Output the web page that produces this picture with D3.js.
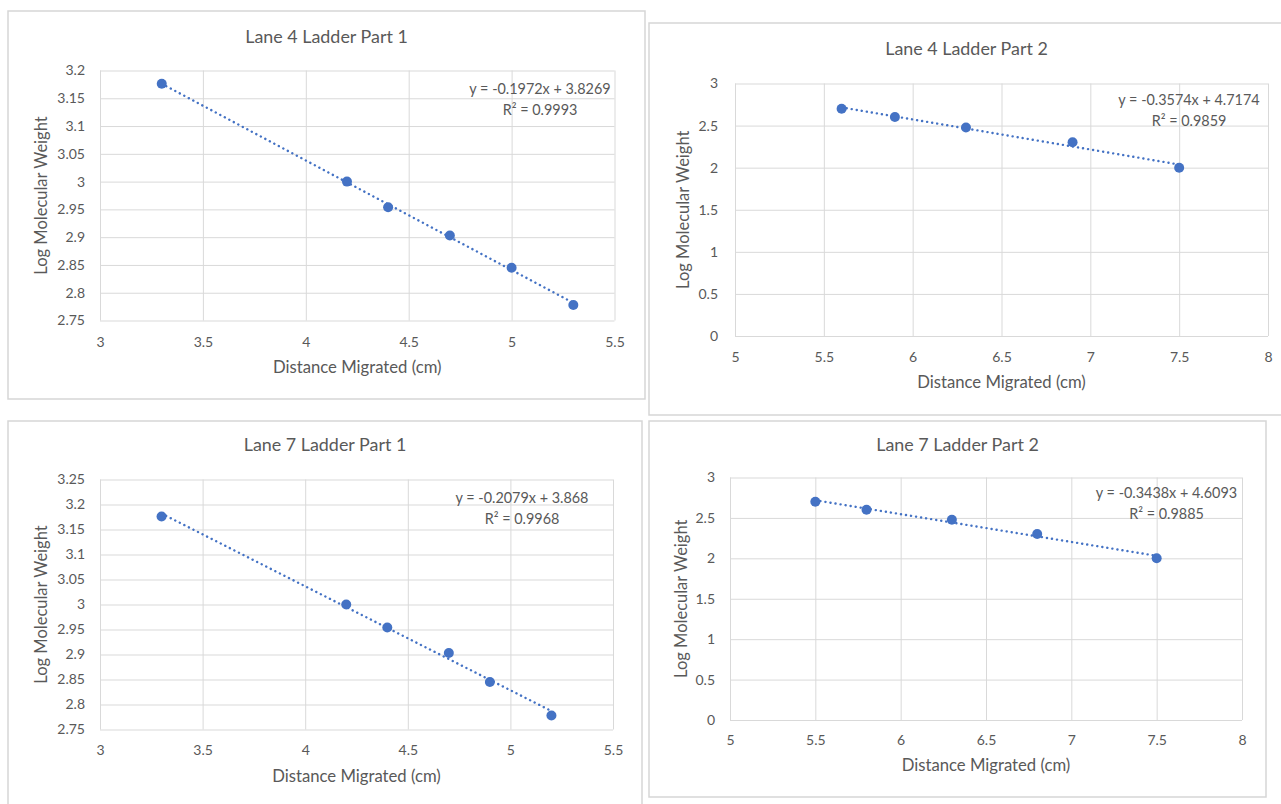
<!DOCTYPE html>
<html>
<head>
<meta charset="utf-8">
<script src="https://cdn.jsdelivr.net/npm/d3@7"></script>
<style>
  html, body { margin: 0; padding: 0; background: #fff; }
  svg { display: block; font-family: Lato, "Open Sans", sans-serif; }
</style>
</head>
<body>
<div id="vis"></div>
<script>
// ladder bands: distance migrated (cm) and log10 of band size
const lane4Part1Distance = [3.3, 4.2, 4.4, 4.7, 5.0, 5.3];
const lane4Part1LogMW = [3.176, 3.0, 2.954, 2.903, 2.845, 2.778];

const lane4Part2Distance = [5.6, 5.9, 6.3, 6.9, 7.5];
const lane4Part2LogMW = [2.699, 2.602, 2.477, 2.301, 2.0];

const lane7Part1Distance = [3.3, 4.2, 4.4, 4.7, 4.9, 5.2];
const lane7Part1LogMW = [3.176, 3.0, 2.954, 2.903, 2.845, 2.778];

const lane7Part2Distance = [5.5, 5.8, 6.3, 6.8, 7.5];
const lane7Part2LogMW = [2.699, 2.602, 2.477, 2.301, 2.0];

// linear trendline fits as printed on each chart: [slope, intercept, R²]
const lane4Part1Fit = [-0.1972, 3.8269, 0.9993];
const lane4Part2Fit = [-0.3574, 4.7174, 0.9859];
const lane7Part1Fit = [-0.2079, 3.868, 0.9968];
const lane7Part2Fit = [-0.3438, 4.6093, 0.9885];

// axis ticks
const part1XTicks = [3, 3.5, 4, 4.5, 5, 5.5];
const part2XTicks = [5, 5.5, 6, 6.5, 7, 7.5, 8];
const lane4Part1YTicks = [2.75, 2.8, 2.85, 2.9, 2.95, 3, 3.05, 3.1, 3.15, 3.2];
const lane7Part1YTicks = [2.75, 2.8, 2.85, 2.9, 2.95, 3, 3.05, 3.1, 3.15, 3.2, 3.25];
const part2YTicks = [0, 0.5, 1, 1.5, 2, 2.5, 3];

const titles = ["Lane 4 Ladder Part 1", "Lane 4 Ladder Part 2", "Lane 7 Ladder Part 1", "Lane 7 Ladder Part 2"];

const WIDTH = 1281;
const HEIGHT = 804;
const BLUE = "#4472C4";
const GRID = "#d9d9d9";
const TEXT = "#595959";

const charts = [
  {
    title: titles[0], xs: lane4Part1Distance, ys: lane4Part1LogMW, fit: lane4Part1Fit,
    xTicks: part1XTicks, yTicks: lane4Part1YTicks,
    frame: [8, 11, 645, 399], plot: [100, 70.5, 614.5, 320.5],
    titleY: 43, xTickY: 347, xLabelY: 373, yLabelX: 41.5, yTickGap: 15,
    eqX: 540, eqY: 94
  },
  {
    title: titles[1], xs: lane4Part2Distance, ys: lane4Part2LogMW, fit: lane4Part2Fit,
    xTicks: part2XTicks, yTicks: part2YTicks,
    frame: [649, 23, 1284, 415], plot: [735, 83.5, 1268, 336],
    titleY: 55, xTickY: 362, xLabelY: 388, yLabelX: 683, yTickGap: 17,
    eqX: 1189, eqY: 105
  },
  {
    title: titles[2], xs: lane7Part1Distance, ys: lane7Part1LogMW, fit: lane7Part1Fit,
    xTicks: part1XTicks, yTicks: lane7Part1YTicks,
    frame: [8, 421, 642, 810], plot: [100, 479.5, 613, 729.5],
    titleY: 451, xTickY: 755, xLabelY: 782, yLabelX: 41.5, yTickGap: 15,
    eqX: 522, eqY: 503
  },
  {
    title: titles[3], xs: lane7Part2Distance, ys: lane7Part2LogMW, fit: lane7Part2Fit,
    xTicks: part2XTicks, yTicks: part2YTicks,
    frame: [649, 421, 1266, 797], plot: [730, 477.5, 1242, 720],
    titleY: 451, xTickY: 745, xLabelY: 771, yLabelX: 681, yTickGap: 15,
    eqX: 1166.5, eqY: 498
  }
];

const fmt = d => String(+d.toFixed(2));

const svg = d3.select("#vis")
  .append("svg")
    .attr("width", WIDTH)
    .attr("height", HEIGHT);

svg.append("rect")
  .attr("width", WIDTH)
  .attr("height", HEIGHT)
  .attr("fill", "#fff");

function drawChart(c) {
  const [fx0, fy0, fx1, fy1] = c.frame;
  const [px0, py0, px1, py1] = c.plot;
  const g = svg.append("g");

  g.append("rect")
    .attr("x", fx0).attr("y", fy0)
    .attr("width", fx1 - fx0).attr("height", fy1 - fy0)
    .attr("fill", "#fff")
    .attr("stroke", "#d6d6d6")
    .attr("stroke-width", 1.5);

  const x = d3.scaleLinear()
    .domain([c.xTicks[0], c.xTicks[c.xTicks.length - 1]])
    .range([px0, px1]);
  const y = d3.scaleLinear()
    .domain([c.yTicks[0], c.yTicks[c.yTicks.length - 1]])
    .range([py1, py0]);

  // gridlines drawn as full-length ticks
  const xGrid = d3.axisBottom(x).tickValues(c.xTicks).tickSize(-(py1 - py0)).tickFormat("");
  const yGrid = d3.axisLeft(y).tickValues(c.yTicks).tickSize(-(px1 - px0)).tickFormat("");

  g.append("g")
    .attr("transform", `translate(0, ${py1})`)
    .call(xGrid)
    .call(s => s.select(".domain").remove())
    .call(s => s.selectAll("line").attr("stroke", GRID));

  g.append("g")
    .attr("transform", `translate(${px0}, 0)`)
    .call(yGrid)
    .call(s => s.select(".domain").remove())
    .call(s => s.selectAll("line").attr("stroke", GRID));

  // tick labels
  const xAxis = d3.axisBottom(x).tickValues(c.xTicks).tickSize(0).tickPadding(0).tickFormat(fmt);
  const yAxis = d3.axisLeft(y).tickValues(c.yTicks).tickSize(0).tickPadding(c.yTickGap).tickFormat(fmt);

  g.append("g")
    .attr("transform", `translate(0, ${c.xTickY})`)
    .call(xAxis)
    .call(s => s.select(".domain").remove())
    .call(s => s.selectAll("text")
      .attr("dy", null).attr("y", 0)
      .attr("fill", TEXT)
      .style("font-family", "Lato")
      .style("font-size", "14px"));

  g.append("g")
    .attr("transform", `translate(${px0}, 0)`)
    .call(yAxis)
    .call(s => s.select(".domain").remove())
    .call(s => s.selectAll("text")
      .attr("fill", TEXT)
      .style("font-family", "Lato")
      .style("font-size", "14px"));

  // trendline over the range of the data
  const xMin = d3.min(c.xs);
  const xMax = d3.max(c.xs);
  const [slope, intercept, r2] = c.fit;
  g.append("line")
    .attr("x1", x(xMin)).attr("y1", y(slope * xMin + intercept))
    .attr("x2", x(xMax)).attr("y2", y(slope * xMax + intercept))
    .attr("stroke", BLUE)
    .attr("stroke-width", 2.4)
    .attr("stroke-linecap", "round")
    .attr("stroke-dasharray", "0.1 5");

  g.selectAll("circle")
    .data(c.xs.map((d, i) => [d, c.ys[i]]))
    .enter()
    .append("circle")
      .attr("cx", d => x(d[0]))
      .attr("cy", d => y(d[1]))
      .attr("r", 5)
      .attr("fill", BLUE);

  // fit equation
  const sign = intercept < 0 ? "-" : "+";
  g.append("text")
    .attr("x", c.eqX).attr("y", c.eqY)
    .attr("text-anchor", "middle")
    .attr("fill", TEXT)
    .style("font-size", "14.4px")
    .text(`y = ${slope}x ${sign} ${Math.abs(intercept)}`);
  g.append("text")
    .attr("x", c.eqX).attr("y", c.eqY + 20.5)
    .attr("text-anchor", "middle")
    .attr("fill", TEXT)
    .style("font-size", "14.4px")
    .text(`R² = ${r2}`);

  // titles
  g.append("text")
    .attr("x", (fx0 + fx1) / 2).attr("y", c.titleY)
    .attr("text-anchor", "middle")
    .attr("fill", TEXT)
    .style("font-size", "17.9px")
    .text(c.title);

  g.append("text")
    .attr("x", (px0 + px1) / 2).attr("y", c.xLabelY)
    .attr("text-anchor", "middle")
    .attr("fill", TEXT)
    .style("font-size", "16.7px")
    .text("Distance Migrated (cm)");

  g.append("text")
    .attr("transform", `translate(${c.yLabelX}, ${(py0 + py1) / 2}) rotate(-90)`)
    .attr("text-anchor", "middle")
    .attr("dy", "0.35em")
    .attr("fill", TEXT)
    .style("font-size", "16.5px")
    .text("Log Molecular Weight");
}

charts.forEach(drawChart);
</script>
</body>
</html>
